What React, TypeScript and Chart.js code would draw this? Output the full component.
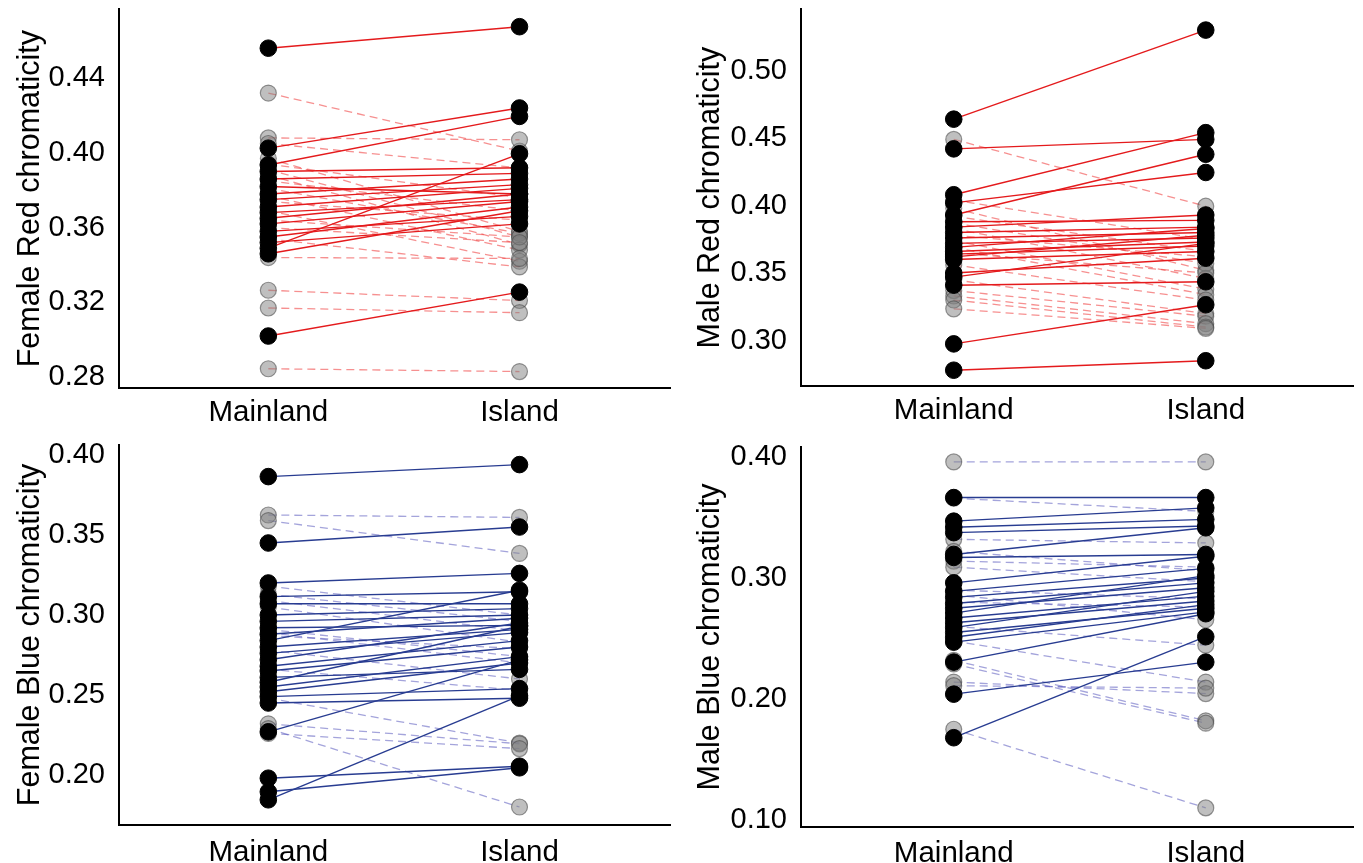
import React, { useEffect, useRef } from 'react';
import { Chart, registerables } from 'chart.js';
Chart.register(...registerables);

const CATEGORIES = ['Mainland', 'Island'];

// Female Red chromaticity
const FR_TICKS = [0.28, 0.32, 0.36, 0.40, 0.44];
const FR_M_SIG = [0.456, 0.4025, 0.3935, 0.390, 0.386, 0.382, 0.378, 0.375, 0.371, 0.368, 0.365, 0.362, 0.358, 0.355, 0.352, 0.349, 0.346, 0.302];
const FR_I_SIG = [0.4675, 0.424, 0.4195, 0.392, 0.389, 0.378, 0.386, 0.383, 0.381, 0.375, 0.378, 0.374, 0.366, 0.371, 0.362, 0.3995, 0.369, 0.3255];
const FR_M_NS = [0.432, 0.408, 0.405, 0.397, 0.394, 0.391, 0.388, 0.385, 0.381, 0.377, 0.374, 0.369, 0.364, 0.360, 0.354, 0.344, 0.3265, 0.317, 0.2845];
const FR_I_NS = [0.401, 0.407, 0.392, 0.358, 0.376, 0.355, 0.351, 0.369, 0.357, 0.348, 0.364, 0.342, 0.355, 0.352, 0.339, 0.3435, 0.321, 0.3145, 0.283];

// Male Red chromaticity
const MR_TICKS = [0.30, 0.35, 0.40, 0.45, 0.50];
const MR_M_SIG = [0.464, 0.442, 0.408, 0.393, 0.402, 0.388, 0.384, 0.380, 0.376, 0.372, 0.369, 0.366, 0.364, 0.362, 0.360, 0.350, 0.347, 0.341, 0.2975, 0.278];
const MR_I_SIG = [0.530, 0.449, 0.454, 0.438, 0.4245, 0.389, 0.393, 0.384, 0.380, 0.376, 0.383, 0.373, 0.370, 0.378, 0.366, 0.361, 0.372, 0.3435, 0.3265, 0.285];
const MR_M_NS = [0.449, 0.404, 0.398, 0.392, 0.387, 0.383, 0.378, 0.374, 0.369, 0.365, 0.356, 0.345, 0.337, 0.333, 0.330, 0.3235];
const MR_I_NS = [0.3995, 0.375, 0.352, 0.366, 0.357, 0.346, 0.362, 0.338, 0.334, 0.350, 0.330, 0.320, 0.318, 0.3125, 0.310, 0.309];

// Female Blue chromaticity
const FB_TICKS = [0.20, 0.25, 0.30, 0.35, 0.40];
const FB_M_SIG = [0.3865, 0.345, 0.320, 0.3115, 0.307, 0.300, 0.296, 0.292, 0.288, 0.284, 0.280, 0.276, 0.272, 0.268, 0.265, 0.261, 0.258, 0.255, 0.252, 0.249, 0.245, 0.227, 0.198, 0.1895, 0.1845];
const FB_I_SIG = [0.394, 0.355, 0.326, 0.3145, 0.307, 0.304, 0.300, 0.2935, 0.298, 0.3155, 0.291, 0.289, 0.295, 0.284, 0.280, 0.266, 0.293, 0.274, 0.270, 0.254, 0.248, 0.272, 0.2055, 0.2045, 0.2495];
const FB_M_NS = [0.3625, 0.359, 0.318, 0.313, 0.309, 0.305, 0.291, 0.289, 0.287, 0.278, 0.266, 0.248, 0.232, 0.226, 0.229];
const FB_I_NS = [0.361, 0.3385, 0.300, 0.296, 0.290, 0.283, 0.274, 0.270, 0.279, 0.260, 0.253, 0.220, 0.2195, 0.2165, 0.180];

// Male Blue chromaticity
const MB_TICKS = [0.10, 0.20, 0.30, 0.40];
const MB_M_SIG = [0.3665, 0.347, 0.342, 0.3375, 0.3195, 0.317, 0.296, 0.289, 0.284, 0.279, 0.275, 0.271, 0.267, 0.263, 0.259, 0.255, 0.251, 0.247, 0.2305, 0.204, 0.168];
const MB_I_SIG = [0.3665, 0.358, 0.3485, 0.343, 0.3415, 0.3195, 0.318, 0.308, 0.300, 0.296, 0.292, 0.302, 0.285, 0.281, 0.289, 0.275, 0.278, 0.272, 0.2705, 0.2305, 0.2515];
const MB_M_NS = [0.396, 0.366, 0.332, 0.322, 0.314, 0.309, 0.290, 0.286, 0.280, 0.260, 0.248, 0.232, 0.229, 0.214, 0.211, 0.175];
const MB_I_NS = [0.396, 0.355, 0.329, 0.306, 0.309, 0.297, 0.283, 0.2655, 0.276, 0.2445, 0.214, 0.182, 0.180, 0.2045, 0.209, 0.110];

const FONT = '"Liberation Sans", Arial, sans-serif';
const RED_SOLID = 'rgb(228,26,28)';
const RED_DASH = 'rgba(240,70,70,0.6)';
const BLUE_SOLID = 'rgb(40,60,145)';
const BLUE_DASH = 'rgba(90,90,190,0.55)';

type PanelCfg = {
  title: string;
  ticks: number[];
  mSig: number[];
  iSig: number[];
  mNs: number[];
  iNs: number[];
  solid: string;
  dashed: string;
  yMin: number;
  yMax: number;
  xMin: number;
  xMax: number;
  left: number;
  top: number;
  width: number;
  height: number;
  padTop: number;
  padRight: number;
  yWidth: number;
  xHeight: number;
  labelPad: number;
};

const PANELS: PanelCfg[] = [
  {
    title: 'Female Red chromaticity', ticks: FR_TICKS,
    mSig: FR_M_SIG, iSig: FR_I_SIG, mNs: FR_M_NS, iNs: FR_I_NS,
    solid: RED_SOLID, dashed: RED_DASH,
    yMin: 0.2742, yMax: 0.4768, xMin: -0.5945, xMax: 1.602,
    left: 0, top: 0, width: 680, height: 430, padTop: 5, padRight: 3, yWidth: 119, xHeight: 42, labelPad: 7,
  },
  {
    title: 'Male Red chromaticity', ticks: MR_TICKS,
    mSig: MR_M_SIG, iSig: MR_I_SIG, mNs: MR_M_NS, iNs: MR_I_NS,
    solid: RED_SOLID, dashed: RED_DASH,
    yMin: 0.2663, yMax: 0.5454, xMin: -0.606, xMax: 1.587,
    left: 680, top: 0, width: 683, height: 430, padTop: 5, padRight: 5, yWidth: 121, xHeight: 44, labelPad: 7,
  },
  {
    title: 'Female Blue chromaticity', ticks: FB_TICKS,
    mSig: FB_M_SIG, iSig: FB_I_SIG, mNs: FB_M_NS, iNs: FB_I_NS,
    solid: BLUE_SOLID, dashed: BLUE_DASH,
    yMin: 0.16875, yMax: 0.40625, xMin: -0.5945, xMax: 1.602,
    left: 0, top: 430, width: 680, height: 433, padTop: 15, padRight: 3, yWidth: 119, xHeight: 38, labelPad: 10,
  },
  {
    title: 'Male Blue chromaticity', ticks: MB_TICKS,
    mSig: MB_M_SIG, iSig: MB_I_SIG, mNs: MB_M_NS, iNs: MB_I_NS,
    solid: BLUE_SOLID, dashed: BLUE_DASH,
    yMin: 0.0942, yMax: 0.4083, xMin: -0.606, xMax: 1.587,
    left: 680, top: 430, width: 683, height: 433, padTop: 17, padRight: 5, yWidth: 121, xHeight: 36, labelPad: 9,
  },
];

function pairPoints(m: number[], i: number[]) {
  const pts: { x: number; y: number }[] = [];
  m.forEach((v, k) => {
    pts.push({ x: 0, y: v });
    pts.push({ x: 1, y: i[k] });
  });
  return pts;
}

function PanelChart({ p }: { p: PanelCfg }) {
  const ref = useRef<HTMLCanvasElement>(null);
  useEffect(() => {
    if (!ref.current) return;
    const datasets: any[] = [];
    // black points (top-most)
    datasets.push({
      data: pairPoints(p.mSig, p.iSig),
      showLine: false,
      pointRadius: 8.3,
      pointBorderWidth: 1,
      backgroundColor: '#000',
      borderColor: '#000',
    });
    // gray points
    datasets.push({
      data: pairPoints(p.mNs, p.iNs),
      showLine: false,
      pointRadius: 8,
      pointBorderWidth: 1.2,
      backgroundColor: 'rgba(128,128,128,0.5)',
      borderColor: 'rgba(70,70,70,0.55)',
    });
    p.mSig.forEach((v, k) => {
      datasets.push({
        data: [{ x: 0, y: v }, { x: 1, y: p.iSig[k] }],
        borderColor: p.solid,
        borderWidth: 1.4,
        pointRadius: 0,
        fill: false,
        tension: 0,
      });
    });
    p.mNs.forEach((v, k) => {
      datasets.push({
        data: [{ x: 0, y: v }, { x: 1, y: p.iNs[k] }],
        borderColor: p.dashed,
        borderWidth: 1.3,
        borderDash: [8, 5],
        pointRadius: 0,
        fill: false,
        tension: 0,
      });
    });

    const chart = new Chart(ref.current, {
      type: 'line',
      data: { datasets },
      options: {
        animation: false,
        responsive: false,
        events: [],
        layout: { padding: { top: p.padTop, right: p.padRight, left: 0, bottom: 0 } },
        plugins: { legend: { display: false }, tooltip: { enabled: false } },
        scales: {
          x: {
            type: 'linear',
            min: p.xMin,
            max: p.xMax,
            grid: { display: false, drawTicks: false },
            border: { display: true, color: '#000', width: 2 },
            afterBuildTicks: (s: any) => {
              s.ticks = CATEGORIES.map((_, idx) => ({ value: idx }));
            },
            afterFit: (s: any) => {
              s.height = p.xHeight;
              s.paddingLeft = 0;
              s.paddingRight = 0;
              s.paddingTop = 0;
              s.paddingBottom = 0;
            },
            ticks: {
              autoSkip: false,
              maxRotation: 0,
              padding: p.labelPad,
              color: '#000',
              font: { size: 29.5, family: FONT },
              callback: (v: any) => CATEGORIES[Number(v)] ?? '',
            },
          },
          y: {
            type: 'linear',
            min: p.yMin,
            max: p.yMax,
            grid: { display: false, drawTicks: false },
            border: { display: true, color: '#000', width: 2 },
            afterBuildTicks: (s: any) => {
              s.ticks = p.ticks.map((v) => ({ value: v }));
            },
            afterFit: (s: any) => {
              s.width = p.yWidth;
              s.paddingTop = 0;
              s.paddingBottom = 0;
              s.paddingLeft = 0;
              s.paddingRight = 0;
            },
            ticks: {
              padding: 14,
              color: '#000',
              font: { size: 29, family: FONT },
              callback: (v: any) => Number(v).toFixed(2),
            },
            title: {
              display: true,
              text: p.title,
              color: '#000',
              font: { size: 30.5, family: FONT },
              padding: { top: 12, bottom: 0 },
            },
          },
        },
      } as any,
    });
    return () => chart.destroy();
  }, [p]);

  return (
    <canvas
      ref={ref}
      width={p.width}
      height={p.height}
      style={{ position: 'absolute', left: p.left, top: p.top, width: p.width, height: p.height }}
    />
  );
}

export default function App() {
  return (
    <div
      style={{
        position: 'absolute',
        left: 0,
        top: 0,
        width: 1363,
        height: 863,
        overflow: 'hidden',
        background: '#fff',
      }}
    >
      {PANELS.map((p, k) => (
        <PanelChart key={k} p={p} />
      ))}
    </div>
  );
}
